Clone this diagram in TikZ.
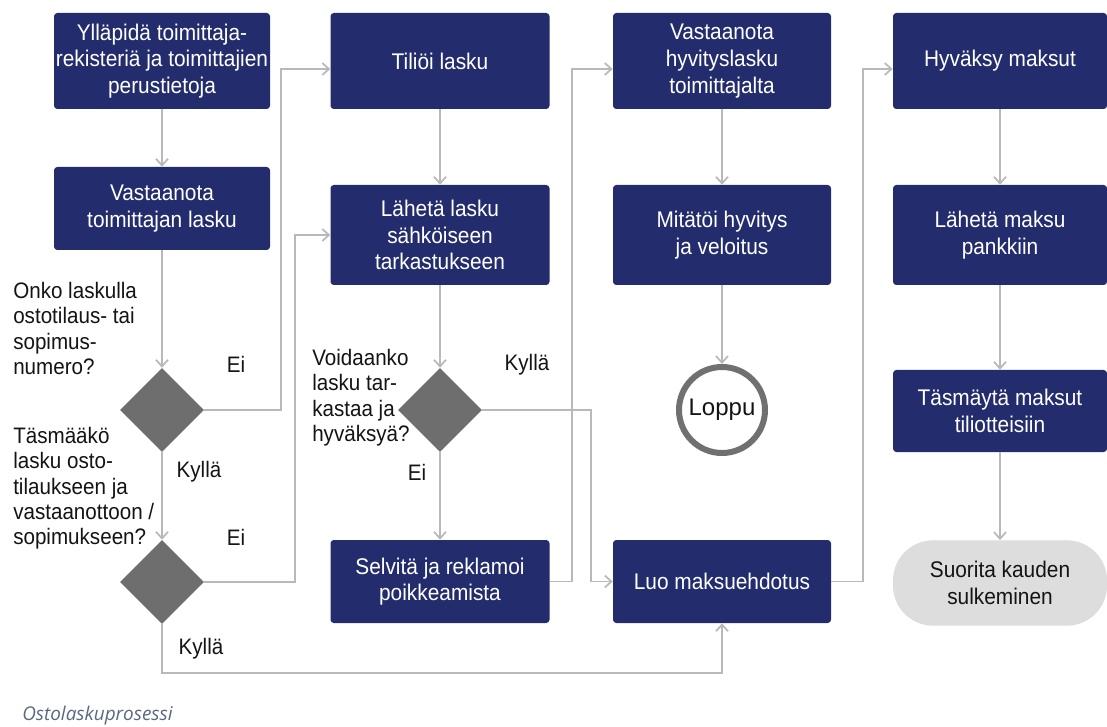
\documentclass[tikz,border=0pt]{standalone}
\usepackage{fontspec}
\setmainfont{Liberation Sans}[FakeStretch=0.92]
\newfontfamily\plainsans{Liberation Sans}
\newfontfamily\capfont{Open Sans}
\usetikzlibrary{shapes.geometric,arrows.meta,calc}
\definecolor{navy}{RGB}{35,45,110}
\definecolor{diagray}{RGB}{110,110,110}
\definecolor{linegray}{RGB}{185,185,185}
\definecolor{ringgray}{RGB}{112,112,112}
\definecolor{pillgray}{RGB}{221,221,221}
\definecolor{capcol}{RGB}{90,105,130}
\definecolor{txt}{RGB}{20,20,20}
\tikzset{
  box/.style={fill=navy, rounded corners=2.5pt, text=white, align=center, inner sep=0pt,
    font=\fontsize{17}{20}\selectfont},
  dia/.style={diamond, fill=diagray, minimum width=63pt, minimum height=63pt, inner sep=0pt},
  conn/.style={draw=linegray, line width=1.3pt, -{Straight Barb[length=5pt,width=9pt]}},
  lbl/.style={align=left, inner sep=0pt, text=txt, font=\fontsize{16.8}{19}\selectfont},
  yn/.style={inner sep=0pt, text=txt, font=\fontsize{16.8}{19}\selectfont},
  endring/.style={circle, draw=ringgray, line width=4.5pt, fill=white, minimum size=64.5pt,
    inner sep=0pt, text=txt, font=\plainsans\fontsize{18}{20}\selectfont},
  pill/.style={fill=pillgray, rounded corners=30pt, text=txt, align=center, inner sep=0pt,
    font=\fontsize{17}{20}\selectfont}
}
\begin{document}
\begin{tikzpicture}[x=0.75pt,y=-0.75pt]
\useasboundingbox[fill=white] (0,0) rectangle (1107,727);
% column 1
\node[box, minimum width=162pt, minimum height=72pt] (a) at (162,61) {Ylläpidä toimittaja-\\rekisteriä ja toimittajien\\perustietoja};
\node[box, minimum width=162pt, minimum height=62.25pt] (b) at (162,208.5) {Vastaanota\\toimittajan lasku};
\node[dia] (d1) at (162,410) {};
\node[dia] (d2) at (162,582) {};
% column 2
\node[box, minimum width=164.25pt, minimum height=72pt] (tili) at (440,61) {Tiliöi lasku};
\node[box, minimum width=164.25pt, minimum height=75pt] (lah) at (440,235) {Lähetä lasku\\sähköiseen\\tarkastukseen};
\node[dia] (d3) at (440,410) {};
\node[box, minimum width=164.25pt, minimum height=62.25pt] (sel) at (440,581.5) {Selvitä ja reklamoi\\poikkeamista};
% column 3
\node[box, minimum width=163.5pt, minimum height=72pt] (hyv) at (722,61) {Vastaanota\\hyvityslasku\\toimittajalta};
\node[box, minimum width=163.5pt, minimum height=75pt] (mit) at (722,235) {Mitätöi hyvitys\\ja veloitus};
\node[endring] (loppu) at (722,410) {Loppu};
\node[box, minimum width=163.5pt, minimum height=62.25pt] (luo) at (722,581.5) {Luo maksuehdotus};
% column 4
\node[box, minimum width=160.5pt, minimum height=72pt] (hm) at (1000,61) {Hyväksy maksut};
\node[box, minimum width=160.5pt, minimum height=75pt] (lm) at (1000,235) {Lähetä maksu\\pankkiin};
\node[box, minimum width=160.5pt, minimum height=61.5pt] (tas) at (1000,411) {Täsmäytä maksut\\tiliotteisiin};
\node[pill, minimum width=160.5pt, minimum height=64pt] (suo) at (1000,583) {Suorita kauden\\sulkeminen};
% question texts
\node[lbl, anchor=north west] (q1) at (13,282) {Onko laskulla\\ostotilaus- tai\\sopimus-\\numero?};
\node[lbl, anchor=north west] (q2) at (13,427) {Täsmääkö\\lasku osto-\\tilaukseen ja\\vastaanottoon /\\sopimukseen?};
\node[lbl, anchor=north west] (q3) at (312,349) {Voidaanko\\lasku tar-\\kastaa ja\\hyväksyä?};
% yes / no labels
\node[yn] (ei1) at (236,364) {Ei};
\node[yn] (ky1) at (199,472) {Kyllä};
\node[yn] (ei2) at (236,537) {Ei};
\node[yn] (ky2) at (201,649) {Kyllä};
\node[yn] (ky3) at (527,365) {Kyllä};
\node[yn] (ei3) at (417,472) {Ei};
% connectors
\draw[conn] (a.south) -- (b.north);
\draw[conn] (b.south) -- (d1.north);
\draw[conn] (d1.south) -- (d2.north);
\draw[conn] (d1.east) -- ++(77,0) |- ([yshift=-6pt]tili.west);
\draw[conn] (d2.east) -- ++(91,0) |- (lah.west);
\draw[conn] (d2.south) -- ++(0,49) -| (luo.south);
\draw[conn] (tili.south) -- (lah.north);
\draw[conn] (lah.south) -- (d3.north);
\draw[conn] (d3.south) -- (sel.north);
\draw[conn] (d3.east) -- ++(109,0) |- (luo.west);
\draw[conn] (sel.east) -- ++(22,0) |- ([yshift=-6pt]hyv.west);
\draw[conn] (hyv.south) -- (mit.north);
\draw[conn] (mit.south) -- (loppu.north);
\draw[conn] (luo.east) -- ++(32,0) |- ([yshift=-6pt]hm.west);
\draw[conn] (hm.south) -- (lm.north);
\draw[conn] (lm.south) -- (tas.north);
\draw[conn] (tas.south) -- (suo.north);
% caption
\node[anchor=west, inner sep=0pt, text=capcol, font=\capfont\itshape\fontsize{14.2}{16}\selectfont] (cap) at (22,716) {Ostolaskuprosessi};
\end{tikzpicture}
\end{document}
